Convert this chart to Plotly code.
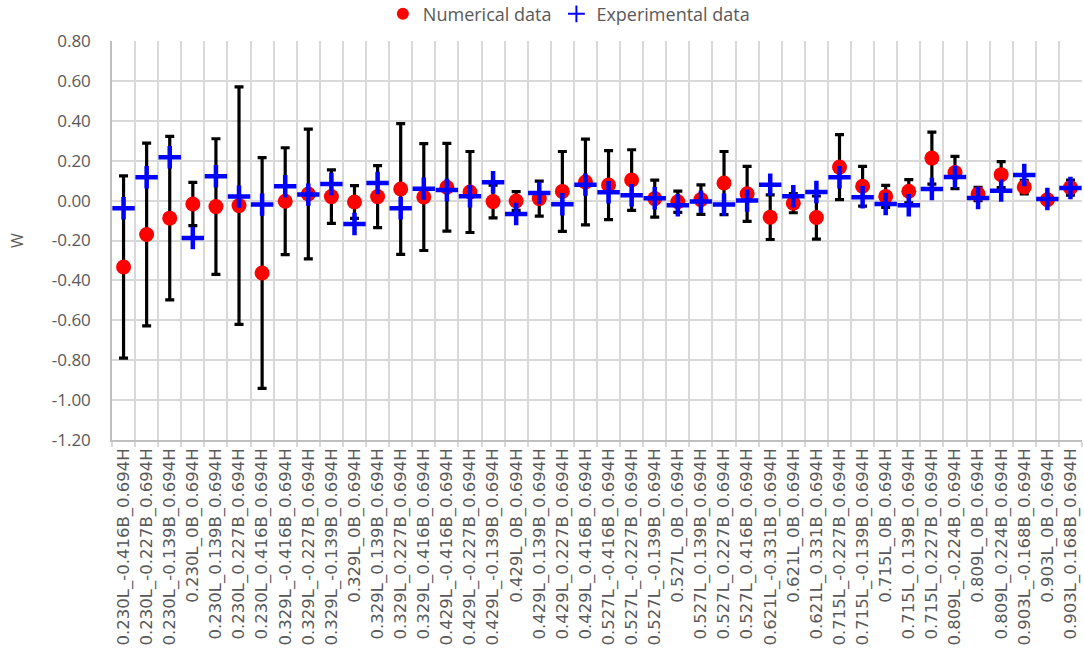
import plotly.graph_objects as go

# Measurement positions (L = length, B = breadth, H = height)
categories = [
    "0.230L_-0.416B_0.694H", "0.230L_-0.227B_0.694H", "0.230L_-0.139B_0.694H",
    "0.230L_0B_0.694H", "0.230L_0.139B_0.694H", "0.230L_0.227B_0.694H",
    "0.230L_0.416B_0.694H",
    "0.329L_-0.416B_0.694H", "0.329L_-0.227B_0.694H", "0.329L_-0.139B_0.694H",
    "0.329L_0B_0.694H", "0.329L_0.139B_0.694H", "0.329L_0.227B_0.694H",
    "0.329L_0.416B_0.694H",
    "0.429L_-0.416B_0.694H", "0.429L_-0.227B_0.694H", "0.429L_-0.139B_0.694H",
    "0.429L_0B_0.694H", "0.429L_0.139B_0.694H", "0.429L_0.227B_0.694H",
    "0.429L_0.416B_0.694H",
    "0.527L_-0.416B_0.694H", "0.527L_-0.227B_0.694H", "0.527L_-0.139B_0.694H",
    "0.527L_0B_0.694H", "0.527L_0.139B_0.694H", "0.527L_0.227B_0.694H",
    "0.527L_0.416B_0.694H",
    "0.621L_-0.331B_0.694H", "0.621L_0B_0.694H", "0.621L_0.331B_0.694H",
    "0.715L_-0.227B_0.694H", "0.715L_-0.139B_0.694H", "0.715L_0B_0.694H",
    "0.715L_0.139B_0.694H", "0.715L_0.227B_0.694H",
    "0.809L_-0.224B_0.694H", "0.809L_0B_0.694H", "0.809L_0.224B_0.694H",
    "0.903L_-0.168B_0.694H", "0.903L_0B_0.694H", "0.903L_0.168B_0.694H",
]

numerical = [
    -0.333, -0.170, -0.088, -0.017, -0.030, -0.025, -0.363, -0.003, 0.033, 0.020,
    -0.007, 0.020, 0.058, 0.018, 0.067, 0.043, -0.005, -0.002, 0.010, 0.046,
    0.093, 0.078, 0.103, 0.010, -0.006, 0.005, 0.088, 0.034, -0.083, -0.013,
    -0.085, 0.168, 0.072, 0.021, 0.047, 0.213, 0.141, 0.033, 0.130, 0.068,
    0.004, 0.065,
]

numerical_err = [
    0.457, 0.458, 0.410, 0.108, 0.340, 0.595, 0.578, 0.268, 0.325, 0.134,
    0.082, 0.155, 0.328, 0.268, 0.220, 0.203, 0.082, 0.047, 0.088, 0.200,
    0.215, 0.173, 0.152, 0.093, 0.053, 0.074, 0.158, 0.138, 0.112, 0.048,
    0.108, 0.163, 0.100, 0.055, 0.058, 0.130, 0.081, 0.033, 0.065, 0.034,
    0.012, 0.038,
]

experimental = [
    -0.038, 0.117, 0.217, -0.188, 0.122, 0.020, -0.020, 0.072, 0.030, 0.083,
    -0.117, 0.088, -0.038, 0.060, 0.053, 0.022, 0.092, -0.067, 0.038, -0.018,
    0.080, 0.042, 0.027, 0.012, -0.023, -0.005, -0.020, 0.000, 0.080, 0.022,
    0.043, 0.117, 0.017, -0.017, -0.023, 0.058, 0.118, 0.013, 0.050, 0.128,
    0.008, 0.063,
]

y_tick_values = [0.8, 0.6, 0.4, 0.2, 0.0, -0.2, -0.4, -0.6, -0.8, -1.0, -1.2]
y_tick_labels = ["0.80", "0.60", "0.40", "0.20", "0.00", "-0.20", "-0.40",
                 "-0.60", "-0.80", "-1.00", "-1.20"]

TEXT_GREY = "#595959"
GRID_GREY = "#d9d9d9"
FONT = "Open Sans"

fig = go.Figure()

fig.add_trace(go.Scatter(
    x=categories,
    y=numerical,
    mode="markers",
    name="Numerical data",
    marker=dict(symbol="circle", size=15, color="#ff0000"),
    error_y=dict(type="data", array=numerical_err, visible=True,
                 color="#000000", thickness=3.2, width=4.5),
))

fig.add_trace(go.Scatter(
    x=categories,
    y=experimental,
    mode="markers",
    name="Experimental data",
    marker=dict(symbol="cross-thin", size=16, color="#0000ff",
                line=dict(color="#0000ff", width=4.5)),
))

fig.update_layout(
    width=1084,
    height=671,
    margin=dict(l=112, r=2, t=41, b=231, autoexpand=False),
    paper_bgcolor="white",
    plot_bgcolor="white",
    font=dict(family=FONT, color=TEXT_GREY),
    showlegend=True,
    legend=dict(
        orientation="h",
        x=0.471, xanchor="center",
        yref="container", y=0.979, yanchor="middle",
        font=dict(family=FONT, size=18, color=TEXT_GREY),
        itemsizing="constant",
        itemwidth=30,
    ),
)

fig.update_xaxes(
    type="category",
    range=[-0.5, len(categories) - 0.5],
    automargin=False,
    tickson="boundaries",
    showgrid=True,
    gridcolor=GRID_GREY,
    gridwidth=1.5,
    showline=True,
    linecolor="#bfbfbf",
    linewidth=1.5,
    ticks="outside",
    ticklen=5,
    tickcolor=GRID_GREY,
    tickwidth=1.5,
    tickangle=-90,
    tickfont=dict(family="DejaVu Sans", size=16.5, color=TEXT_GREY),
)

fig.update_yaxes(
    range=[-1.2, 0.8],
    automargin=False,
    tickvals=y_tick_values,
    ticktext=y_tick_labels,
    showgrid=True,
    gridcolor=GRID_GREY,
    gridwidth=1.5,
    zeroline=False,
    showline=True,
    linecolor="#bfbfbf",
    linewidth=1.5,
    ticks="",
    ticklabelstandoff=16,
    tickfont=dict(family=FONT, size=17, color=TEXT_GREY),
    title=dict(text="W", font=dict(family=FONT, size=16, color=TEXT_GREY),
               standoff=24),
)

fig.write_html("out.html")
